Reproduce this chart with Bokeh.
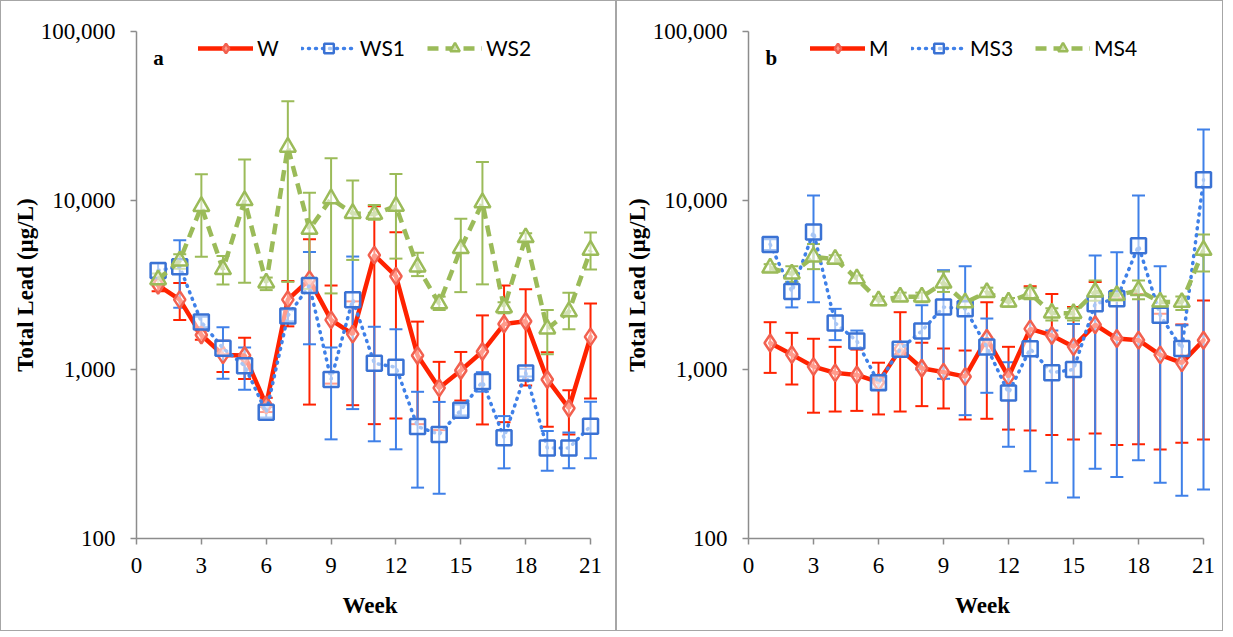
from bokeh.plotting import figure
from bokeh.models import (ColumnDataSource, Whisker, TeeHead, Range1d, FixedTicker,
                          NumeralTickFormatter, Legend, LegendItem, Label)
from bokeh.layouts import row
from bokeh.embed import file_html
from bokeh.resources import INLINE

weeks = list(range(1, 22))
x_ticks = [0, 3, 6, 9, 12, 15, 18, 21]
y_ticks = [100, 1000, 10000, 100000]

# Panel a
W = [3150, 2590, 1600, 1220, 1210, 617, 2590, 3400, 1965, 1620, 4750, 3565, 1210, 778, 986, 1277, 1858, 1930, 873, 590, 1560]
W_up = [3400, 3250, 1700, 1480, 1540, 680, 3340, 5900, 3140, 2530, 9250, 6490, 1920, 1110, 1270, 2090, 3140, 2980, 1265, 755, 2460]
W_lo = [2900, 1960, 1500, 965, 880, 560, 1800, 620, 825, 615, 475, 513, 475, 438, 655, 473, 488, 803, 458, 412, 673]

WS1 = [3850, 4060, 1910, 1336, 1053, 558, 2075, 3140, 873, 2590, 1089, 1031, 460, 413, 574, 849, 395, 955, 343, 343, 462]
WS1_up = [4250, 5820, 2050, 1780, 1350, 600, 2250, 4950, 1350, 4660, 1790, 1730, 738, 643, 620, 964, 530, 1010, 432, 424, 645]
WS1_lo = [3500, 2320, 1780, 883, 760, 520, 1930, 1410, 386, 583, 376, 337, 200, 184, 535, 740, 260, 910, 252, 260, 298]

WS2 = [3400, 4400, 9220, 3910, 10000, 3260, 20700, 6760, 10250, 8400, 8300, 9260, 4050, 2450, 5200, 9700, 2320, 6040, 1740, 2200, 5080]
WS2_up = [3700, 4800, 14300, 4700, 17500, 3500, 38600, 11100, 17800, 13150, 9400, 14350, 4900, 2700, 7800, 16900, 2500, 6400, 2250, 2850, 6470]
WS2_lo = [3150, 3950, 4640, 3180, 3260, 2950, 3300, 3000, 2820, 4450, 7700, 4530, 3570, 2250, 2870, 3190, 2150, 5750, 1230, 1730, 3910]

# Panel b
M = [1435, 1225, 1040, 955, 928, 841, 1320, 1018, 965, 908, 1530, 905, 1740, 1590, 1365, 1840, 1525, 1490, 1220, 1095, 1490]
M_up = [1905, 1648, 1520, 1362, 1312, 1097, 2183, 1440, 1331, 1295, 2500, 1362, 3112, 2800, 2344, 3290, 2650, 2800, 2140, 1847, 2559]
M_lo = [955, 815, 555, 564, 569, 542, 564, 607, 588, 506, 511, 441, 436, 409, 385, 418, 358, 361, 336, 368, 385]

MS3 = [5500, 2890, 6520, 1885, 1476, 834, 1318, 1692, 2340, 2290, 1360, 726, 1326, 958, 1000, 2450, 2620, 5400, 2095, 1330, 13250]
MS3_up = [5900, 3300, 10700, 2285, 1700, 900, 1400, 2400, 3870, 4083, 2003, 1104, 2618, 1700, 1858, 4730, 4940, 10700, 4083, 1828, 26300]
MS3_lo = [5100, 2330, 2500, 1492, 1343, 770, 1230, 1000, 881, 537, 728, 349, 250, 214, 175, 259, 231, 290, 214, 179, 195]

MS4 = [3990, 3680, 4640, 4500, 3450, 2560, 2690, 2690, 3250, 2490, 2860, 2510, 2810, 2160, 2150, 2880, 2750, 2940, 2510, 2500, 5080]
MS4_up = [4200, 4083, 5530, 4750, 3600, 2700, 2850, 2850, 3800, 2600, 3050, 2650, 3050, 2300, 2300, 3360, 2950, 3360, 2700, 2700, 6300]
MS4_lo = [3800, 3300, 3925, 4250, 3250, 2400, 2550, 2500, 2877, 2350, 2700, 2350, 2600, 1950, 1950, 2550, 2550, 2600, 2350, 2250, 3800]

RED = "#ff2200"
RED_MK = "#f2604f"
BLUE = "#3f80e8"
BLUE_MK = "#3a72d4"
GREEN = "#9bbb59"
AXIS = "#8c8c8c"
SERIF = "Liberation Serif"


def panel(letter, names, series, width, border_left, border_right):
    p = figure(width=width, height=631, output_backend="svg", toolbar_location=None,
               y_axis_type="log", x_range=Range1d(0, 21.6), y_range=Range1d(100, 100000),
               min_border_left=border_left, min_border_right=border_right,
               min_border_top=30, min_border_bottom=94,
               styles={"border": "1px solid #a6a6a6"})
    p.outline_line_color = None
    p.xgrid.grid_line_color = None
    p.ygrid.grid_line_color = None
    p.background_fill_color = "white"

    specs = [
        dict(color=RED, mk_color=RED_MK, marker="diamond", dash="solid", lw=4.5, size=17, cap="round"),
        dict(color=BLUE, mk_color=BLUE_MK, marker="square", dash="1 6", lw=3.5, size=15, cap="round"),
        dict(color=GREEN, mk_color=GREEN, marker="triangle", dash="11 7", lw=4.5, size=16, cap="butt"),
    ]
    items = []
    for name, (vals, up, lo), s in zip(names, series, specs):
        src = ColumnDataSource(dict(x=weeks, y=vals, up=up, lo=lo))
        wk = Whisker(source=src, base="x", upper="up", lower="lo", line_color=s["color"],
                     line_width=2, level="underlay",
                     upper_head=TeeHead(size=13, line_color=s["color"], line_width=2),
                     lower_head=TeeHead(size=13, line_color=s["color"], line_width=2))
        p.add_layout(wk)
        ln = p.line("x", "y", source=src, line_color=s["color"], line_width=s["lw"],
                    line_dash=s["dash"], line_cap=s["cap"])
        mk = p.scatter("x", "y", source=src, marker=s["marker"], size=s["size"],
                       line_color=s["mk_color"], line_width=2.5,
                       fill_color="white", fill_alpha=0.55)
        items.append(LegendItem(label=name, renderers=[ln, mk]))

    leg = Legend(items=items, orientation="horizontal", location=(62, 478),
                 border_line_color=None, background_fill_alpha=0, padding=0, margin=0,
                 spacing=22, glyph_width=55, glyph_height=24, label_standoff=4,
                 label_text_font="Lato", label_text_font_size="21px", label_height=24,
                 label_text_color="black")
    p.add_layout(leg)

    p.add_layout(Label(x=0.78, y=70000, text=letter, text_font=SERIF, text_font_style="bold",
                       text_font_size="21px", text_baseline="middle", text_color="black"))

    for ax in (p.xaxis[0], p.yaxis[0]):
        ax.axis_line_color = AXIS
        ax.axis_line_width = 1.5
        ax.major_tick_line_color = AXIS
        ax.major_tick_line_width = 1.5
        ax.major_tick_out = 6
        ax.major_tick_in = 0
        ax.minor_tick_line_color = None
        ax.major_label_text_font = SERIF
        ax.major_label_text_font_size = "23px"
        ax.major_label_text_color = "black"
        ax.axis_label_text_font = SERIF
        ax.axis_label_text_font_size = "23px"
        ax.axis_label_text_font_style = "bold"
        ax.axis_label_text_color = "black"

    p.xaxis.ticker = FixedTicker(ticks=x_ticks)
    p.xaxis.bounds = (0, 21)
    p.xaxis.axis_label = "Week"
    p.xaxis.major_label_standoff = 13
    p.xaxis.axis_label_standoff = 17

    p.yaxis.ticker = FixedTicker(ticks=y_ticks, minor_ticks=[])
    p.yaxis.formatter = NumeralTickFormatter(format="0,0")
    p.yaxis.axis_label = "Total Lead (µg/L)"
    p.yaxis.major_label_standoff = 15
    p.yaxis.axis_label_standoff = 0
    return p


pa = panel("a", ["W", "WS1", "WS2"],
           [(W, W_up, W_lo), (WS1, WS1_up, WS1_lo), (WS2, WS2_up, WS2_lo)],
           width=616, border_left=135, border_right=14)
pb = panel("b", ["M", "MS3", "MS4"],
           [(M, M_up, M_lo), (MS3, MS3_up, MS3_lo), (MS4, MS4_up, MS4_lo)],
           width=607, border_left=131, border_right=8)

layout = row(pa, pb)
open("out.html", "w").write(file_html(layout, INLINE))
